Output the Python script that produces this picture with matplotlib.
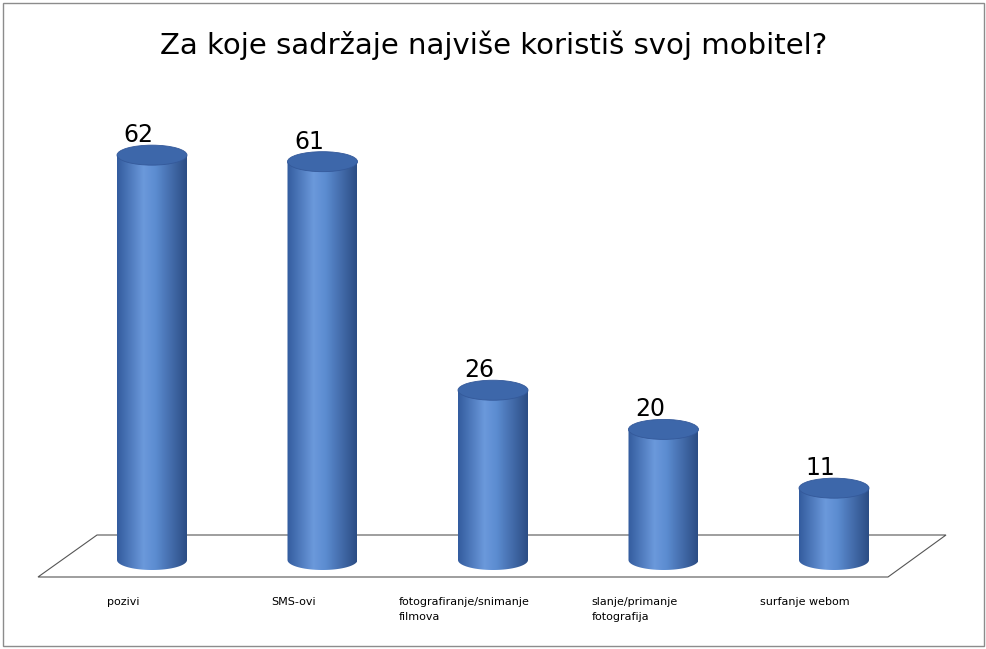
import numpy as np
import matplotlib
matplotlib.use("Agg")
import matplotlib.pyplot as plt
from matplotlib.patches import Ellipse, Rectangle, Polygon, PathPatch
from matplotlib.path import Path

title = "Za koje sadržaje najviše koristiš svoj mobitel?"
categories = ["pozivi", "SMS-ovi", "fotografiranje/snimanje\nfilmova",
              "slanje/primanje\nfotografija", "surfanje webom"]
values = [62, 61, 26, 20, 11]

W, H = 987, 649
fig = plt.figure(figsize=(W/100, H/100), dpi=100)
ax = fig.add_axes([0, 0, 1, 1])
xstep, x0 = 170.5, 152
ystep, y0 = 6.53, 560
ax.set_xlim(-x0/xstep, (W-x0)/xstep)
ax.set_ylim((y0-H)/ystep, y0/ystep)
ax.axis("off")

def px(x, y):
    return ((x-x0)/xstep, (y0-y)/ystep)

# border
fig.patches.append(Rectangle((3/W, 3/H), 1-6/W, 1-6/H, transform=fig.transFigure,
                             fill=False, ec="#8c8c8c", lw=1.0))

# floor
floor = [px(38, 577), px(888, 577), px(946, 535), px(97, 535)]
ax.add_patch(Polygon(floor, closed=True, fc="white", ec="#555555", lw=0.8, zorder=1))

fig.text(0.5, 1-45/H, title, ha="center", va="center", fontsize=21, family="DejaVu Sans")

bw = 70/xstep
eh = 20/ystep
t = np.linspace(0, 1, 256)
cols = np.array([[0.20, 0.36, 0.62], [0.42, 0.60, 0.86], [0.36, 0.55, 0.82], [0.17, 0.30, 0.52]])
pos = [0, 0.38, 0.55, 1]
grad = np.stack([np.interp(t, pos, cols[:, k]) for k in range(3)], axis=1)[None, :, :]

for i, (c, v) in enumerate(zip(categories, values)):
    xl, xr = i - bw/2, i + bw/2
    th = np.linspace(np.pi, 2*np.pi, 40)
    arc = np.column_stack([i + bw/2*np.cos(th), eh/2*np.sin(th)])
    verts = np.vstack([[[xl, v]], arc, [[xr, v]], [[xl, v]]])
    path = Path(verts)
    patch = PathPatch(path, fc="none", ec="none")
    ax.add_patch(patch)
    im = ax.imshow(grad, extent=[xl, xr, -eh, v], aspect="auto", zorder=3)
    im.set_clip_path(patch)
    ax.add_patch(Ellipse((i, v), bw, eh, fc="#3d67aa", ec="#34599a", lw=0.6, zorder=4))
    ax.text(i - 0.08, v + eh/2 - 0.3, str(v), ha="center", va="bottom", fontsize=17, zorder=5)
    ax.text(i - 0.17, px(0, 597)[1], c, ha="center", va="top", fontsize=8,
            multialignment="left", linespacing=1.6)

fig.savefig("out.png", dpi=100)
